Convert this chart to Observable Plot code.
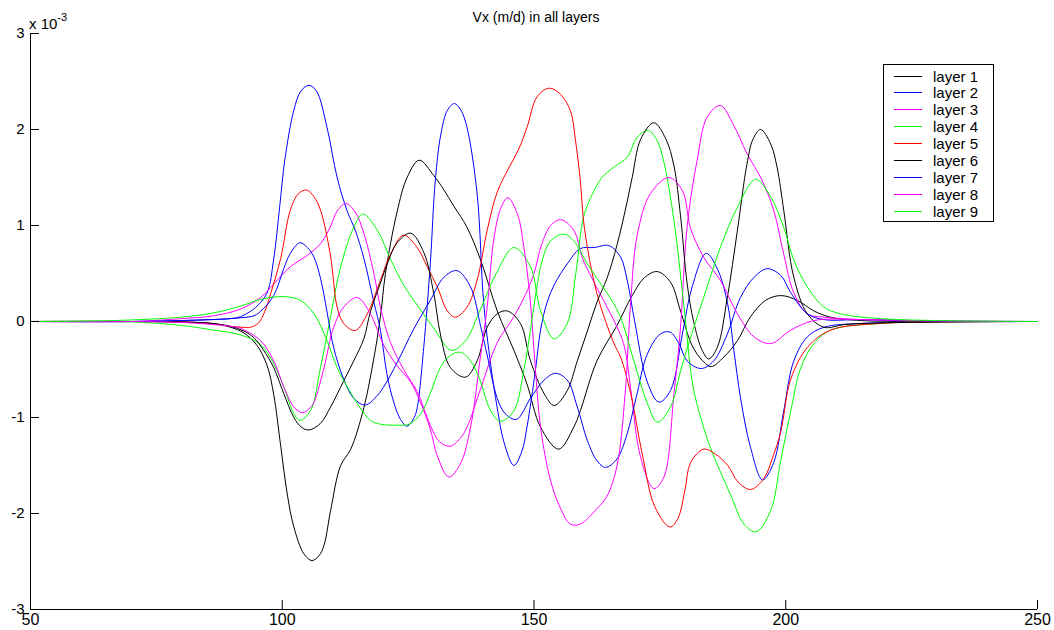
<!DOCTYPE html>
<html><head><meta charset="utf-8">
<script src="https://cdn.jsdelivr.net/npm/d3@7"></script>
<script src="https://cdn.jsdelivr.net/npm/@observablehq/plot@0.6"></script>
<style>
body{margin:0;background:#fff;}
#wrap{position:relative;width:1054px;height:630px;font-family:"Liberation Sans",Arial,sans-serif;color:#000;}
#title{position:absolute;left:536px;top:8px;transform:translateX(-50%);font-size:14px;line-height:18px;white-space:nowrap;}
#expo{position:absolute;left:29px;top:10px;font-size:15px;line-height:18px;white-space:nowrap;}
#expo sup{font-size:11px;position:relative;top:-2px;}
#legend{position:absolute;left:883px;top:64px;}
</style></head><body><div id="wrap"><div id="title">Vx (m/d) in all layers</div><div id="expo">x 10<sup>-3</sup></div></div>
<script>
const xTicks=[50,100,150,200,250];
const yTicks=[-3,-2,-1,0,1,2,3];
const layerNames=["layer 1","layer 2","layer 3","layer 4","layer 5","layer 6","layer 7","layer 8","layer 9"];
const layerColors=["#000000","#0000ff","#ff00ff","#00ff00","#ff0000","#000000","#0000ff","#ff00ff","#00ff00"];
// values in units of 1e-3 m/d
const layer1=[[50,0],[70,0],[80,-0.005],[86,-0.02],[89.7,-0.06],[92.4,-0.12],[95,-0.25],[97,-0.46],[98.3,-0.76],[99.7,-1.3],[101,-1.8],[102.3,-2.14],[104.3,-2.42],[105.9,-2.49],[107.3,-2.44],[108.3,-2.33],[109.6,-1.97],[111.6,-1.5],[113.6,-1.33],[116.2,-0.9],[118.2,-0.38],[119.5,0.05],[120.5,0.5],[122.8,1.14],[124.8,1.5],[127.2,1.68],[130.1,1.52],[132,1.38],[134.1,1.2],[136.7,0.98],[139.4,0.64],[142.7,0.11],[146,-0.3],[148.6,-0.65],[151.3,-1.1],[154.9,-1.33],[157.9,-1.1],[159.2,-0.93],[162.5,-0.41],[166.5,-0.04],[169.5,0.27],[172,0.46],[174.5,0.52],[177.1,0.41],[179.1,0.11],[181.4,-0.25],[183.5,-0.41],[185.2,-0.47],[187.7,-0.37],[190.4,-0.2],[193,0.05],[196,0.22],[199,0.27],[202.3,0.22],[205.6,0.11],[208.9,0.045],[215,0.01],[230,0],[250,0]];
const layer2=[[50,0],[70,0],[80,0.01],[86,0.02],[89.7,0.03],[91.7,0.05],[93.5,0.1],[95,0.16],[97,0.3],[98.3,0.65],[99.5,1.2],[100.5,1.68],[102.3,2.2],[103.7,2.4],[105.3,2.46],[106.8,2.4],[108.9,2.02],[110.9,1.5],[112.9,1.15],[114.5,0.95],[116.2,0.66],[118.2,0.2],[119.5,-0.09],[120.8,-0.55],[122.2,-0.85],[123.5,-1.02],[124.8,-1.09],[126.2,-1.0],[126.8,-0.9],[128.1,-0.27],[129.4,0.6],[130.4,1.47],[131.5,1.95],[132.8,2.2],[134.2,2.27],[135.5,2.2],[136.7,2.02],[138.7,1.33],[140,0.2],[141.4,-0.45],[142.7,-0.9],[144,-1.25],[146,-1.5],[147.6,-1.35],[148.6,-1.1],[150.3,-0.5],[151.3,-0.09],[152.6,0.2],[154.2,0.4],[156.6,0.6],[159.2,0.76],[161.9,0.77],[164.9,0.79],[167.2,0.67],[168.5,0.43],[170,0.0],[172.5,-0.63],[174.8,-0.84],[177.1,-0.72],[179.5,-0.12],[181.4,0.36],[184.2,0.71],[186.4,0.55],[188.4,0.2],[189.7,-0.3],[191,-0.79],[193,-1.31],[195.4,-1.65],[197.6,-1.47],[199.6,-0.93],[201.6,-0.41],[204.3,-0.16],[207.6,-0.06],[215,-0.02],[230,-0.005],[250,0]];
const layer3=[[50,0],[70,0],[80,0.03],[86.4,0.06],[91.7,0.13],[95.7,0.25],[98.3,0.39],[101.6,0.57],[105,0.69],[107.6,0.81],[109.5,0.98],[110.9,1.15],[112.6,1.23],[114.5,1.14],[116.2,0.92],[118.2,0.5],[119.5,0.15],[121.5,-0.22],[124.1,-0.5],[126.8,-0.73],[129.4,-1.08],[131.2,-1.25],[133.3,-1.3],[135.3,-1.22],[136.7,-1.1],[139.4,-0.7],[142.7,-0.22],[146,0.05],[148.3,0.28],[150,0.5],[151.5,0.8],[153.3,1.0],[155.3,1.06],[157.9,0.95],[159.7,0.65],[162.5,0.35],[165.2,0.08],[167.8,-0.23],[169.2,-0.7],[171.2,-1.42],[173.8,-1.74],[175.8,-1.62],[177.8,-0.75],[179.1,-0.06],[180.4,0.98],[182.4,1.68],[184.4,2.13],[187,2.25],[189.7,2.04],[192.3,1.75],[195.2,1.48],[197.6,1.16],[199.6,0.7],[201.6,0.3],[204.3,0.08],[207.6,0.045],[215,0.02],[230,0.005],[250,0]];
const layer4=[[50,0],[70,-0.005],[79.8,-0.04],[86.4,-0.09],[91.7,-0.14],[95.7,-0.24],[98.3,-0.44],[100.3,-0.68],[102.3,-0.96],[103.5,-1.03],[105.6,-0.93],[107.6,-0.48],[109.6,0.05],[111.6,0.57],[114.2,0.98],[116,1.12],[118.9,0.95],[121.5,0.65],[124.1,0.38],[127.5,0.12],[130.1,-0.07],[133.6,-0.3],[136.4,-0.2],[139,0.08],[142.5,0.5],[146,0.77],[149.3,0.57],[151.3,0.11],[154,-0.18],[156.6,-0.02],[158.3,0.5],[159.9,1.1],[161.9,1.36],[163.5,1.5],[165.9,1.61],[168.5,1.71],[170.5,1.92],[172.7,1.99],[174.5,1.88],[175.8,1.66],[177.8,1.05],[179.8,0.15],[181.5,-0.65],[183.1,-1.0],[185,-1.31],[189,-1.8],[191.7,-2.11],[194.1,-2.19],[197,-1.97],[199,-1.45],[201,-0.93],[203,-0.48],[205.6,-0.23],[208.9,-0.09],[218.8,-0.02],[230,-0.005],[250,0]];
const layer5=[[50,0],[70,0],[80,-0.005],[86,-0.02],[89.7,-0.05],[92,-0.06],[93.7,-0.06],[95.2,-0.02],[96.5,0.1],[97.7,0.29],[99.7,0.66],[101.6,1.16],[103.2,1.33],[104.8,1.37],[106.3,1.3],[107.6,1.16],[109.6,0.68],[110.9,0.15],[112.2,-0.02],[114.5,-0.094],[116.9,0.08],[119.5,0.43],[121.5,0.7],[124.1,0.9],[126.8,0.77],[128.8,0.57],[130.8,0.36],[132.8,0.11],[134.4,0.045],[136.7,0.15],[138.7,0.43],[140.7,0.95],[142.7,1.35],[145,1.6],[147,1.8],[148.6,2.02],[150.6,2.34],[152.9,2.43],[155,2.38],[157.2,2.2],[158.2,1.9],[159.2,1.47],[160,0.98],[162.5,0.29],[165.9,-0.23],[167.2,-0.37],[169.2,-0.75],[171.5,-1.38],[174,-1.93],[177,-2.14],[178.6,-2.05],[180,-1.75],[181.1,-1.47],[183.7,-1.33],[186,-1.38],[188.5,-1.5],[190.5,-1.67],[193,-1.75],[195.6,-1.64],[197.5,-1.4],[199,-1.15],[201,-0.6],[204.3,-0.27],[208.9,-0.09],[218.8,-0.02],[230,-0.005],[250,0]];
const layer6=[[50,0],[70,0],[80,-0.005],[86,-0.02],[89.7,-0.05],[92.4,-0.1],[94.4,-0.17],[96.3,-0.3],[98.3,-0.48],[100.3,-0.75],[102.3,-1.0],[103.8,-1.1],[105.3,-1.13],[107.6,-1.06],[109.6,-0.89],[112.2,-0.62],[114.2,-0.41],[116.2,-0.18],[117.5,0.1],[119.5,0.4],[121,0.62],[122.8,0.82],[125.5,0.92],[128.1,0.72],[130.1,0.29],[131.4,-0.13],[133.4,-0.48],[136.4,-0.58],[138.7,-0.41],[140.7,-0.06],[142.7,0.08],[144.7,0.11],[147.3,-0.02],[149.3,-0.41],[152,-0.75],[154,-0.875],[156.6,-0.72],[158.6,-0.41],[160.6,-0.1],[162.5,0.2],[164.5,0.45],[166.5,0.8],[168.3,1.2],[169.5,1.5],[171.2,1.9],[173.8,2.07],[176.2,1.9],[177.8,1.62],[179.1,1.1],[180.4,0.4],[181.7,0.0],[183.4,-0.3],[184.7,-0.39],[186.4,-0.27],[188.4,0.25],[190.4,0.95],[192.3,1.64],[193.5,1.9],[195,2.0],[197,1.85],[198.3,1.6],[199.6,1.16],[201.6,0.46],[204.3,0.08],[207.6,-0.06],[212,-0.03],[230,-0.005],[250,0]];
const layer7=[[50,0],[70,0],[80,0.01],[86,0.02],[89.7,0.03],[92,0.04],[94.4,0.06],[96,0.12],[98.3,0.27],[100.3,0.55],[101.5,0.7],[103.5,0.82],[105,0.77],[106.3,0.67],[107.6,0.45],[108.9,0.1],[110.2,-0.27],[112.2,-0.6],[114.2,-0.8],[116.5,-0.87],[118.9,-0.77],[120.5,-0.65],[122.8,-0.43],[126.1,-0.08],[129.4,0.22],[132.1,0.46],[134.7,0.53],[137.4,0.36],[139.4,-0.05],[140.7,-0.35],[142.7,-0.8],[144.3,-0.96],[146.5,-1.02],[149.3,-0.8],[152,-0.61],[154.3,-0.54],[156.6,-0.61],[158.6,-0.89],[160.6,-1.24],[162.5,-1.45],[164.2,-1.52],[166.5,-1.43],[168.5,-1.17],[170.3,-0.79],[172.5,-0.34],[175.1,-0.13],[177,-0.11],[178.8,-0.23],[180.4,-0.41],[183.2,-0.49],[185.7,-0.41],[188.4,-0.13],[191,0.25],[193.7,0.46],[196.3,0.55],[199,0.48],[201,0.3],[204.3,0.08],[207.6,0.02],[215,0.02],[230,0.005],[250,0]];
const layer8=[[50,0],[70,0],[80,-0.01],[86,-0.03],[89.7,-0.05],[91.7,-0.07],[95.7,-0.2],[98.3,-0.41],[100.3,-0.68],[102.3,-0.89],[104,-0.95],[105.5,-0.9],[106.3,-0.84],[108.3,-0.48],[110.2,-0.06],[112.2,0.15],[114.9,0.25],[117.5,0.08],[120.2,-0.25],[122.8,-0.46],[125.5,-0.63],[127.5,-0.85],[129.4,-1.12],[130.8,-1.4],[133.1,-1.62],[135.4,-1.48],[137.4,-1.1],[139.4,-0.35],[140.7,0.15],[142,0.85],[143.4,1.18],[144.8,1.29],[146.7,1.12],[148,0.77],[149.2,0.25],[150.2,-0.44],[151.3,-1.1],[153.3,-1.66],[155.3,-1.95],[157.2,-2.11],[159.2,-2.11],[162.5,-1.95],[164.5,-1.82],[166.5,-1.5],[168.1,-0.75],[169.2,0.2],[170.5,0.9],[173.1,1.33],[176.8,1.5],[179.5,1.36],[181.1,0.97],[183.7,0.67],[187,0.43],[190.4,0.08],[193.7,-0.16],[197,-0.23],[201,-0.09],[205.6,0.01],[215,0.02],[230,0.005],[250,0]];
const layer9=[[50,0],[66.5,0.01],[79.8,0.045],[86.4,0.09],[91.7,0.16],[95.7,0.23],[100.3,0.26],[103.6,0.22],[106.3,0.08],[108.9,-0.2],[110.9,-0.48],[112.9,-0.68],[115.5,-0.9],[117.5,-1.03],[119.5,-1.07],[122.8,-1.08],[125.2,-1.07],[127.5,-0.96],[129.4,-0.75],[131.4,-0.48],[133.2,-0.36],[135.4,-0.32],[137.4,-0.41],[139.2,-0.6],[141.4,-0.93],[143.3,-1.04],[146,-0.93],[148,-0.5],[149.3,-0.09],[150.3,0.27],[151.7,0.65],[153.3,0.84],[155.9,0.91],[157.9,0.84],[160.6,0.6],[162.5,0.45],[165.9,0.18],[167.5,0.0],[169.5,-0.35],[172.5,-0.85],[174.5,-1.05],[177.1,-0.89],[179.1,-0.52],[180.6,-0.25],[183.7,0.25],[187,0.77],[190.4,1.19],[194,1.48],[197,1.3],[199.6,0.98],[201.6,0.64],[204.3,0.36],[207.6,0.15],[210.9,0.08],[218.8,0.03],[230,0.01],[250,0]];

const layers=[layer1,layer2,layer3,layer4,layer5,layer6,layer7,layer8,layer9];
const rows=layers.flatMap((pts,i)=>pts.map(([x,v])=>({layer:layerNames[i],x,v})));

const W=1054,H=630,ML=30,MR=17,MT=33,MB=21;
const TICK=9;
const chart=Plot.plot({
  width:W,height:H,marginLeft:ML,marginRight:MR,marginTop:MT,marginBottom:MB,
  style:{fontFamily:"'Liberation Sans', Arial, sans-serif",background:"transparent",color:"#000"},
  x:{domain:[50,250]},
  y:{domain:[-3,3]},
  color:{domain:layerNames,range:layerColors},
  marks:[
    Plot.axisX(xTicks,{tickSize:0,tickPadding:4,fontSize:16,label:null,tickFormat:d=>String(d)}),
    Plot.axisY(yTicks,{tickSize:0,tickPadding:6,fontSize:15,label:null,tickFormat:d=>String(d)}),
    Plot.line(rows,{x:"x",y:"v",z:"layer",stroke:"layer",strokeWidth:1,curve:"catmull-rom"}),
    Plot.tickX(xTicks,{x:d=>d,insetTop:H-MT-MB-TICK,stroke:"#000"}),
    Plot.tickY(yTicks,{y:d=>d,insetRight:W-ML-MR-TICK,stroke:"#000"}),
    Plot.ruleX([50],{stroke:"#000"}),
    Plot.ruleY([-3],{stroke:"#000"})
  ]
});
const wrap=document.getElementById("wrap");
chart.style.position="absolute";chart.style.left="0";chart.style.top="0";
wrap.insertBefore(chart,wrap.firstChild);

// legend box
const LW=111,LH=158,ROW=16.9;
const leg=d3.select("#wrap").append("svg").attr("id","legend")
  .attr("width",LW).attr("height",LH)
  .style("font-family","'Liberation Sans', Arial, sans-serif").style("font-size","15px");
leg.append("rect").attr("x",0.5).attr("y",0.5).attr("width",LW-1).attr("height",LH-1)
  .attr("fill","#fff").attr("stroke","#000").attr("stroke-width",1);
layerNames.forEach((name,i)=>{
  const cy=Math.round(11.5+i*ROW)+0.5;
  leg.append("line").attr("x1",11).attr("x2",39).attr("y1",cy).attr("y2",cy)
    .attr("stroke",layerColors[i]).attr("stroke-width",1);
  leg.append("text").attr("x",50).attr("y",cy).attr("dy","0.35em").text(name);
});
</script></body></html>
